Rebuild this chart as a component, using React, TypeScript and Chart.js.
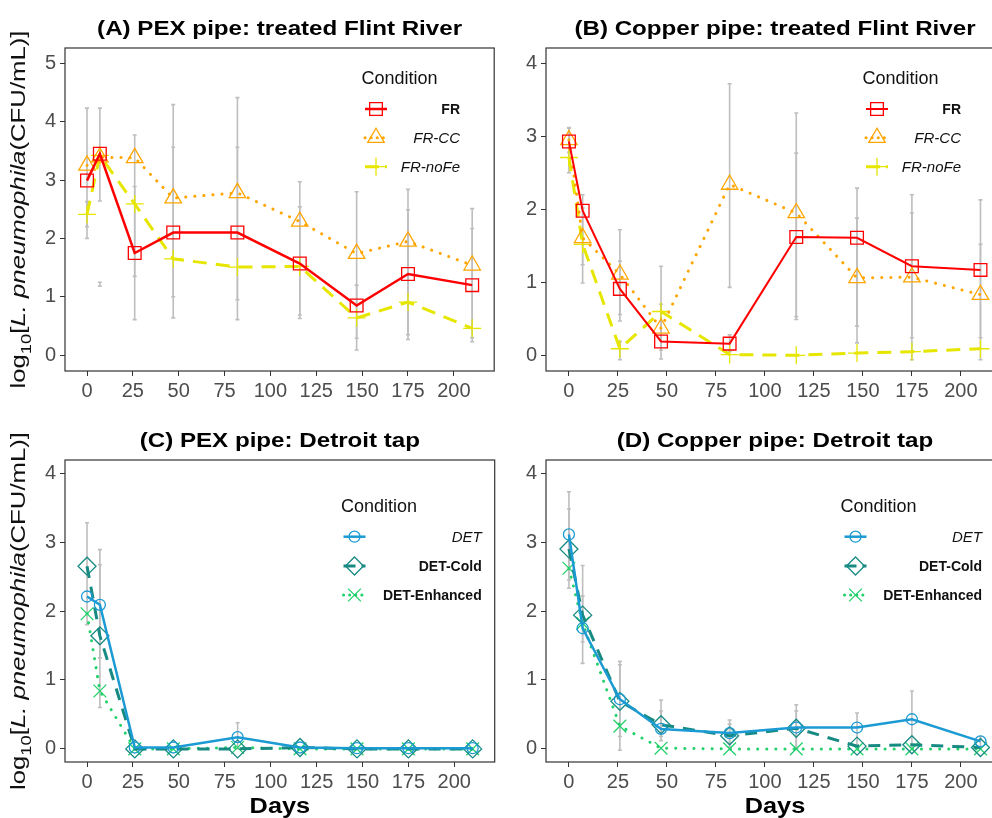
import React, { useEffect, useRef } from 'react';
import { Chart, registerables } from 'chart.js';
import { drawPoint } from 'chart.js/helpers';

Chart.register(...registerables);

const FAM = '"Liberation Sans", Arial, sans-serif';

// ---------- data ----------
const days = [0, 7, 26, 47, 82, 116, 147, 175, 210];
const xTickValues = [0, 25, 50, 75, 100, 125, 150, 175, 200];
const yTicksA = [0, 1, 2, 3, 4, 5];
const yTicksBCD = [0, 1, 2, 3, 4];

const namesFlint = ['FR', 'FR-CC', 'FR-noFe'];
const namesDetroit = ['DET', 'DET-Cold', 'DET-Enhanced'];

// (A) PEX pipe: treated Flint River
const aFR = [2.99, 3.45, 1.75, 2.1, 2.1, 1.57, 0.85, 1.39, 1.2];
const aFRCC = [3.25, 3.39, 3.38, 2.69, 2.78, 2.29, 1.74, 1.95, 1.54];
const aFRnoFe = [2.41, 3.42, 2.59, 1.65, 1.51, 1.52, 0.64, 0.91, 0.46];
const aFRLow = [2.0, 2.64, 0.61, 0.64, 0.61, 0.63, 0.09, 0.27, 0.23];
const aFRHigh = [4.23, 4.23, 3.77, 4.29, 4.41, 2.97, 2.8, 2.84, 2.51];
const aFRCCLow = [null, null, null, null, null, null, null, null, null];
const aFRCCHigh = [null, null, null, null, null, null, null, null, null];
const aFRnoFeLow = [2.2, 1.18, 1.35, 1.0, 0.95, 0.69, 0.29, 0.35, 0.3];
const aFRnoFeHigh = [2.63, 1.25, 2.89, 3.56, 3.56, 2.54, 1.2, 2.49, 2.17];

// (B) Copper pipe: treated Flint River
const bFR = [2.93, 1.98, 0.91, 0.19, 0.16, 1.62, 1.61, 1.22, 1.17];
const bFRCC = [2.95, 1.61, 1.11, 0.37, 2.34, 1.95, 1.06, 1.07, 0.83];
const bFRnoFe = [2.71, 1.52, 0.09, 0.6, 0.01, 0.0, 0.03, 0.05, 0.09];
const bFRLow = [2.5, 0.99, 0.56, 0.07, 0.05, 0.53, 0.4, 0.24, 0.24];
const bFRHigh = [3.11, 2.2, 1.29, 0.7, 0.28, 2.77, 1.88, 1.95, 1.52];
const bFRCCLow = [2.78, 1.24, 0.47, -0.05, 0.93, 0.49, 0.17, -0.06, -0.06];
const bFRCCHigh = [3.12, 2.02, 1.72, 1.22, 3.72, 3.32, 2.29, 2.2, 2.13];
const bFRnoFeLow = [null, null, -0.06, null, null, null, null, null, null];
const bFRnoFeHigh = [null, null, 0.19, null, null, null, null, null, null];

// (C) PEX pipe: Detroit tap
const cDET = [2.21, 2.09, 0.02, 0.02, 0.17, 0.02, 0.01, 0.01, 0.01];
const cDETCold = [2.65, 1.64, 0.0, 0.0, 0.0, 0.02, 0.0, 0.0, 0.0];
const cDETEnh = [1.96, 0.84, 0.0, 0.0, 0.02, 0.0, 0.0, 0.0, 0.0];
const cDETLow = [null, 1.32, null, null, 0.0, null, null, null, null];
const cDETHigh = [null, 2.67, null, null, 0.38, null, null, null, null];
const cDETColdLow = [1.8, 0.6, null, null, null, null, null, null, null];
const cDETColdHigh = [3.28, 2.89, null, null, null, null, null, null, null];
const cDETEnhLow = [null, null, null, null, null, null, null, null, null];
const cDETEnhHigh = [null, null, null, null, null, null, null, null, null];

// (D) Copper pipe: Detroit tap
const dDET = [3.11, 1.75, 0.72, 0.29, 0.23, 0.31, 0.31, 0.43, 0.11];
const dDETCold = [2.9, 1.94, 0.69, 0.35, 0.19, 0.3, 0.04, 0.06, 0.02];
const dDETEnh = [2.62, 1.82, 0.33, 0.01, 0.0, 0.0, 0.0, 0.0, 0.0];
const dDETLow = [2.33, 1.24, 0.18, 0.18, 0.08, 0.02, 0.06, 0.02, 0.02];
const dDETHigh = [3.73, 2.66, 1.27, 0.71, 0.42, 0.64, 0.52, 0.84, 0.18];
const dDETColdLow = [2.45, 1.55, -0.02, 0.12, 0.03, 0.0, null, null, null];
const dDETColdHigh = [3.48, 2.22, 1.22, 0.55, 0.36, 0.55, null, null, null];
const dDETEnhLow = [null, null, null, null, null, null, null, null, null];
const dDETEnhHigh = [null, null, null, null, null, null, null, null, null];

// ---------- styles ----------
type SeriesStyle = {
  color: string;
  point: string;
  radius: number;
  width: number;
  dash: number[];
  round: boolean;
  labelFont: string;
};

const stylesFlintA: SeriesStyle[] = [
  { color: '#FF0000', point: 'rect', radius: 9, width: 2.5, dash: [], round: false, labelFont: `bold 14px ${FAM}` },
  { color: '#FFA500', point: 'triangle', radius: 9.5, width: 3, dash: [0.1, 9], round: true, labelFont: `italic 15px ${FAM}` },
  { color: '#E6E600', point: 'cross', radius: 9, width: 3, dash: [14, 9], round: false, labelFont: `italic 15px ${FAM}` },
];
const stylesFlintB: SeriesStyle[] = [
  { color: '#FF0000', point: 'rect', radius: 9, width: 2, dash: [], round: false, labelFont: `bold 14px ${FAM}` },
  { color: '#FFA500', point: 'triangle', radius: 9.5, width: 3, dash: [0.1, 9], round: true, labelFont: `italic 15px ${FAM}` },
  { color: '#E6E600', point: 'cross', radius: 9, width: 3, dash: [14, 9], round: false, labelFont: `italic 15px ${FAM}` },
];
const stylesDetroit: SeriesStyle[] = [
  { color: '#1B9AD3', point: 'circle', radius: 5.5, width: 2.5, dash: [], round: false, labelFont: `italic 15px ${FAM}` },
  { color: '#178B83', point: 'rectRot', radius: 9, width: 3, dash: [12, 9], round: false, labelFont: `bold 14px ${FAM}` },
  { color: '#22D06C', point: 'crossRot', radius: 9, width: 3, dash: [0.1, 9], round: true, labelFont: `bold 14px ${FAM}` },
];

type PanelCfg = {
  key: string;
  left: number;
  top: number;
  w: number;
  h: number;
  padTop: number;
  padRight: number;
  yAxisW: number;
  xAxisH: number;
  xMin: number;
  xMax: number;
  yMin: number;
  yMax: number;
  yTicks: number[];
  title: string;
  yLabel: boolean;
  xLabel: boolean;
  names: string[];
  values: number[][];
  lows: (number | null)[][];
  highs: (number | null)[][];
  styles: SeriesStyle[];
  legend: { titleX: number; titleY: number; keyX: number; keyYs: number[]; labelRight: number };
};

const panels: PanelCfg[] = [
  {
    key: 'A', left: 0, top: 0, w: 505, h: 410, padTop: 48, padRight: 7, yAxisW: 65, xAxisH: 39,
    xMin: -12, xMax: 222, yMin: -0.27, yMax: 5.26, yTicks: yTicksA,
    title: '(A) PEX pipe: treated Flint River', yLabel: true, xLabel: false,
    names: namesFlint, values: [aFR, aFRCC, aFRnoFe],
    lows: [aFRLow, aFRCCLow, aFRnoFeLow], highs: [aFRHigh, aFRCCHigh, aFRnoFeHigh],
    styles: stylesFlintA,
    legend: { titleX: 361.5, titleY: 83.5, keyX: 376, keyYs: [109, 137.7, 166.7], labelRight: 460 },
  },
  {
    key: 'B', left: 505, top: 0, w: 510, h: 410, padTop: 48, padRight: 11, yAxisW: 41, xAxisH: 39,
    xMin: -11.7, xMax: 222, yMin: -0.215, yMax: 4.21, yTicks: yTicksBCD,
    title: '(B) Copper pipe: treated Flint River', yLabel: false, xLabel: false,
    names: namesFlint, values: [bFR, bFRCC, bFRnoFe],
    lows: [bFRLow, bFRCCLow, bFRnoFeLow], highs: [bFRHigh, bFRCCHigh, bFRnoFeHigh],
    styles: stylesFlintB,
    legend: { titleX: 862.5, titleY: 83.5, keyX: 877, keyYs: [109, 137.7, 166.7], labelRight: 961 },
  },
  {
    key: 'C', left: 0, top: 410, w: 505, h: 408, padTop: 50, padRight: 7, yAxisW: 65, xAxisH: 56,
    xMin: -12, xMax: 222, yMin: -0.19, yMax: 4.19, yTicks: yTicksBCD,
    title: '(C) PEX pipe: Detroit tap', yLabel: true, xLabel: true,
    names: namesDetroit, values: [cDET, cDETCold, cDETEnh],
    lows: [cDETLow, cDETColdLow, cDETEnhLow], highs: [cDETHigh, cDETColdHigh, cDETEnhHigh],
    styles: stylesDetroit,
    legend: { titleX: 341, titleY: 511.7, keyX: 354.5, keyYs: [536.7, 566, 595], labelRight: 481.7 },
  },
  {
    key: 'D', left: 505, top: 410, w: 510, h: 408, padTop: 50, padRight: 11, yAxisW: 41, xAxisH: 56,
    xMin: -11.7, xMax: 222, yMin: -0.19, yMax: 4.19, yTicks: yTicksBCD,
    title: '(D) Copper pipe: Detroit tap', yLabel: false, xLabel: true,
    names: namesDetroit, values: [dDET, dDETCold, dDETEnh],
    lows: [dDETLow, dDETColdLow, dDETEnhLow], highs: [dDETHigh, dDETColdHigh, dDETEnhHigh],
    styles: stylesDetroit,
    legend: { titleX: 840.5, titleY: 511.7, keyX: 855.5, keyYs: [536.7, 566, 595], labelRight: 982 },
  },
];

// ---------- drawing helpers ----------
function drawStretched(ctx: CanvasRenderingContext2D, text: string, cx: number, baseline: number, font: string, stretch: number) {
  ctx.save();
  ctx.font = font;
  ctx.textAlign = 'center';
  ctx.textBaseline = 'alphabetic';
  ctx.translate(cx, baseline);
  ctx.scale(stretch, 1);
  ctx.fillText(text, 0, 0);
  ctx.restore();
}

function drawYLabel(ctx: CanvasRenderingContext2D, baseX: number, cy: number, targetLen: number) {
  const F = 21;
  const parts = [
    { t: 'log', font: `${F}px ${FAM}`, dy: 0 },
    { t: '10', font: `${Math.round(F * 0.72)}px ${FAM}`, dy: F * 0.28 },
    { t: '[', font: `${F}px ${FAM}`, dy: 0 },
    { t: 'L. pneumophila', font: `italic ${F}px ${FAM}`, dy: 0 },
    { t: '(CFU/mL)]', font: `${F}px ${FAM}`, dy: 0 },
  ];
  let total = 0;
  const widths = parts.map((p) => {
    ctx.font = p.font;
    const w = ctx.measureText(p.t).width;
    total += w;
    return w;
  });
  const s = targetLen / total;
  ctx.save();
  ctx.fillStyle = '#111111';
  ctx.textAlign = 'left';
  ctx.textBaseline = 'alphabetic';
  ctx.translate(baseX, cy);
  ctx.rotate(-Math.PI / 2);
  ctx.scale(s, 1);
  let x = -total / 2;
  parts.forEach((p, i) => {
    ctx.font = p.font;
    ctx.fillText(p.t, x, p.dy);
    x += widths[i];
  });
  ctx.restore();
}

function makeDecor(cfg: PanelCfg) {
  return {
    id: 'decor' + cfg.key,
    beforeDatasetsDraw(chart: any) {
      const ctx: CanvasRenderingContext2D = chart.ctx;
      const xs = chart.scales.x;
      const ys = chart.scales.y;
      const a = chart.chartArea;
      ctx.save();
      ctx.beginPath();
      ctx.rect(a.left, a.top, a.right - a.left, a.bottom - a.top);
      ctx.clip();
      ctx.strokeStyle = '#BEBEBE';
      ctx.lineWidth = 1.6;
      cfg.lows.forEach((lowArr, si) => {
        const highArr = cfg.highs[si];
        days.forEach((d, i) => {
          const lo = lowArr[i];
          const hi = highArr[i];
          if (lo === null || hi === null) return;
          const px = xs.getPixelForValue(d);
          const y1 = ys.getPixelForValue(lo);
          const y2 = ys.getPixelForValue(hi);
          ctx.beginPath();
          ctx.moveTo(px, y1);
          ctx.lineTo(px, y2);
          ctx.moveTo(px - 2, y1);
          ctx.lineTo(px + 2, y1);
          ctx.moveTo(px - 2, y2);
          ctx.lineTo(px + 2, y2);
          ctx.stroke();
        });
      });
      ctx.restore();
    },
    afterDraw(chart: any) {
      const ctx: CanvasRenderingContext2D = chart.ctx;
      const a = chart.chartArea;
      ctx.save();
      ctx.strokeStyle = '#333333';
      ctx.lineWidth = 1.2;
      ctx.strokeRect(a.left, a.top, a.right - a.left, a.bottom - a.top);
      ctx.restore();

      const cx = (a.left + a.right) / 2;
      ctx.save();
      ctx.fillStyle = '#000000';
      drawStretched(ctx, cfg.title, cx, a.top - 13, `bold 21px ${FAM}`, 1.15);
      if (cfg.xLabel) {
        drawStretched(ctx, 'Days', cx, 812.5 - cfg.top, `bold 22px ${FAM}`, 1.15);
      }
      ctx.restore();

      if (cfg.yLabel) {
        drawYLabel(ctx, 25 - cfg.left, (a.top + a.bottom) / 2, 358);
      }

      const L = cfg.legend;
      ctx.save();
      ctx.fillStyle = '#111111';
      ctx.font = `18px ${FAM}`;
      ctx.textAlign = 'left';
      ctx.textBaseline = 'alphabetic';
      ctx.fillText('Condition', L.titleX - cfg.left, L.titleY - cfg.top);
      cfg.names.forEach((name, i) => {
        const st = cfg.styles[i];
        const ky = L.keyYs[i] - cfg.top;
        const kx = L.keyX - cfg.left;
        ctx.save();
        ctx.strokeStyle = st.color;
        ctx.lineWidth = st.width;
        ctx.setLineDash(st.dash.length ? [st.dash[0], Math.min(st.dash[1], 6)] : []);
        ctx.lineCap = st.round ? 'round' : 'butt';
        ctx.beginPath();
        ctx.moveTo(kx - 11, ky);
        ctx.lineTo(kx + 11, ky);
        ctx.stroke();
        ctx.setLineDash([]);
        ctx.lineCap = 'butt';
        ctx.lineWidth = 1.3;
        ctx.fillStyle = 'rgba(0,0,0,0)';
        drawPoint(ctx, { pointStyle: st.point, radius: st.radius, rotation: 0, borderWidth: 1.3 } as any, kx, ky);
        ctx.restore();
        ctx.fillStyle = '#111111';
        ctx.font = st.labelFont;
        ctx.textAlign = 'right';
        ctx.fillText(name, L.labelRight - cfg.left, ky + 5);
      });
      ctx.restore();
    },
  };
}

function PanelChart({ cfg }: { cfg: PanelCfg }) {
  const ref = useRef<HTMLCanvasElement>(null);
  useEffect(() => {
    const canvas = ref.current;
    if (!canvas) return;
    const datasets = cfg.names.map((name, si) => {
      const st = cfg.styles[si];
      return {
        label: name,
        data: days.map((d, i) => ({ x: d, y: cfg.values[si][i] })),
        borderColor: st.color,
        borderWidth: st.width,
        borderDash: st.dash,
        borderCapStyle: st.round ? 'round' : 'butt',
        pointStyle: st.point,
        pointRadius: st.radius,
        pointBorderColor: st.color,
        pointBackgroundColor: 'rgba(0,0,0,0)',
        pointBorderWidth: 1.3,
        pointHoverRadius: st.radius,
        tension: 0,
        fill: false,
      };
    });
    const tickFont = { family: FAM, size: 20 };
    const chart = new Chart(canvas, {
      type: 'line',
      data: { datasets: datasets as any },
      plugins: [makeDecor(cfg) as any],
      options: {
        responsive: false,
        maintainAspectRatio: false,
        animation: false,
        events: [],
        layout: { padding: { top: cfg.padTop, right: cfg.padRight, left: 0, bottom: 0 } },
        plugins: {
          legend: { display: false },
          title: { display: false },
          tooltip: { enabled: false },
        },
        scales: {
          x: {
            type: 'linear',
            min: cfg.xMin,
            max: cfg.xMax,
            afterBuildTicks: (scale: any) => {
              scale.ticks = xTickValues.map((v) => ({ value: v }));
            },
            afterFit: (scale: any) => {
              scale.height = cfg.xAxisH;
            },
            grid: { display: true, drawOnChartArea: false, drawTicks: true, tickLength: 5, color: '#333333', lineWidth: 1 },
            border: { display: false },
            ticks: { font: tickFont, color: '#4D4D4D', padding: 3, maxRotation: 0, autoSkip: false },
          },
          y: {
            type: 'linear',
            min: cfg.yMin,
            max: cfg.yMax,
            afterBuildTicks: (scale: any) => {
              scale.ticks = cfg.yTicks.map((v) => ({ value: v }));
            },
            afterFit: (scale: any) => {
              scale.width = cfg.yAxisW;
            },
            grid: { display: true, drawOnChartArea: false, drawTicks: true, tickLength: 5, color: '#333333', lineWidth: 1 },
            border: { display: false },
            ticks: { font: tickFont, color: '#4D4D4D', padding: 4, autoSkip: false },
          },
        },
      } as any,
    });
    return () => chart.destroy();
  }, [cfg]);
  return (
    <canvas
      ref={ref}
      width={cfg.w}
      height={cfg.h}
      style={{ position: 'absolute', left: cfg.left, top: cfg.top, width: cfg.w, height: cfg.h }}
    />
  );
}

export default function App() {
  return (
    <div
      style={{
        position: 'absolute',
        left: 0,
        top: 0,
        width: 992,
        height: 818,
        overflow: 'hidden',
        background: '#ffffff',
      }}
    >
      {panels.map((p) => (
        <PanelChart key={p.key} cfg={p} />
      ))}
    </div>
  );
}
